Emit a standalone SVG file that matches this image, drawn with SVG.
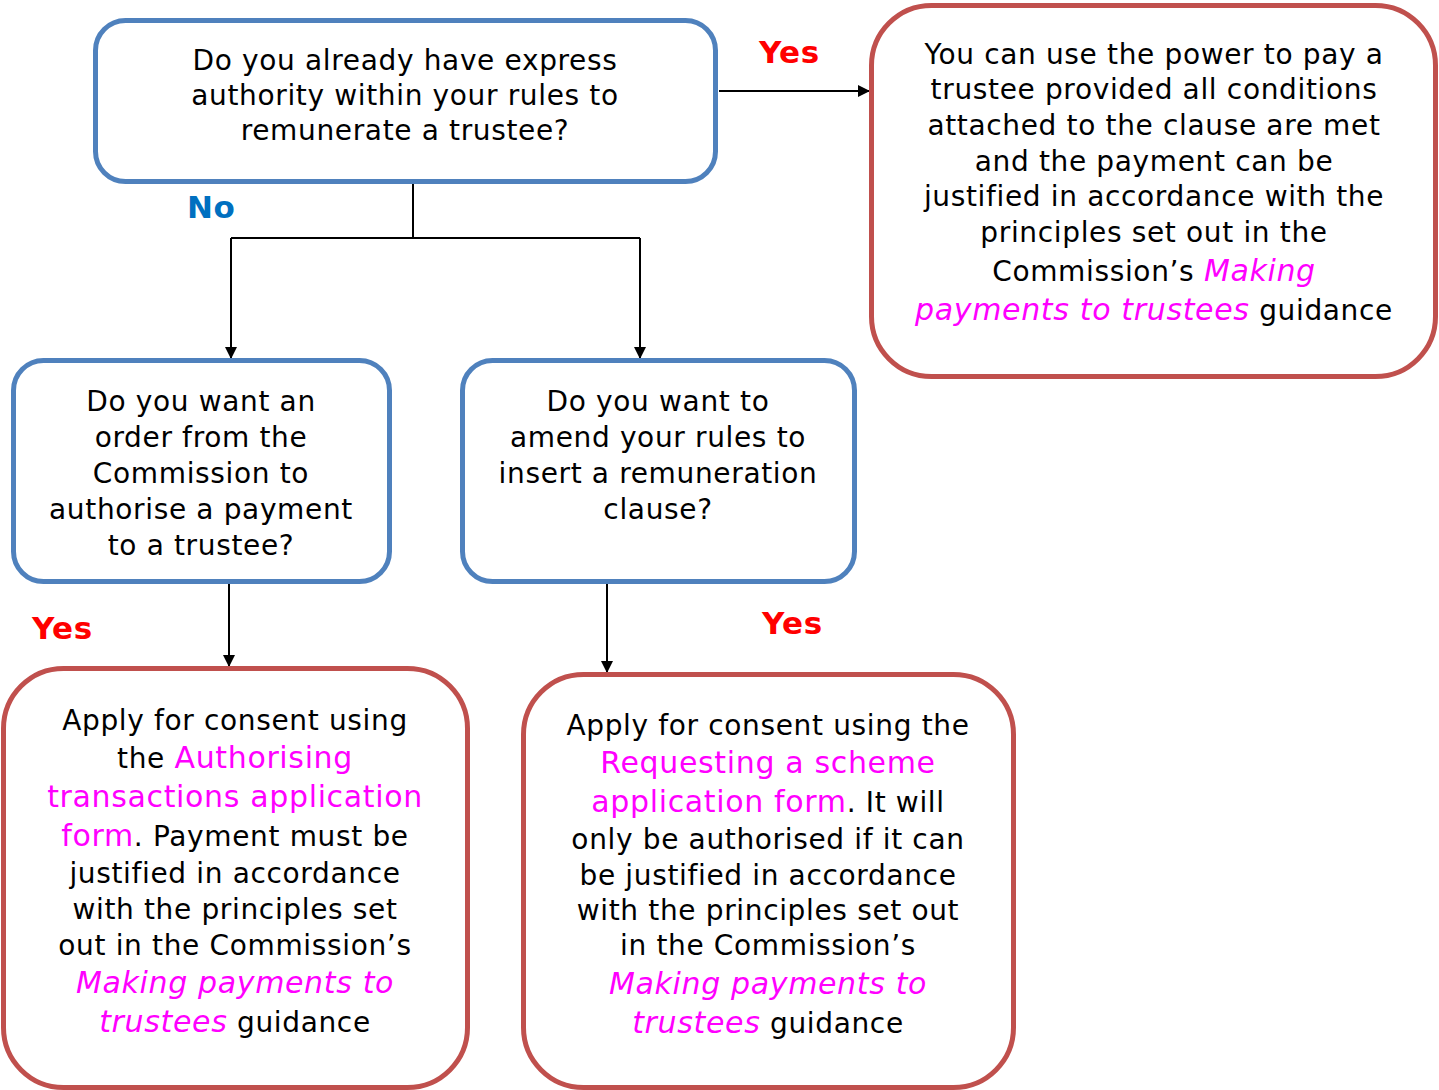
<svg xmlns="http://www.w3.org/2000/svg" width="1439" height="1090" viewBox="0 0 1439 1090">
<defs>
<marker id="arr" markerWidth="12" markerHeight="12" refX="12" refY="6" orient="auto" markerUnits="userSpaceOnUse">
<path d="M0,0 L12,6 L0,12 Z" fill="#000"/>
</marker>
<style>
.q{fill:#fff;stroke:#4f81bd;stroke-width:5}
.a{fill:#fff;stroke:#c0504d;stroke-width:5}
.t{font-family:"DejaVu Sans",Verdana,sans-serif;font-size:28px;letter-spacing:0.65px;fill:#000;text-anchor:middle}
.m{fill:#ff00ff;font-size:30px}
.i{font-style:italic}
.lbl{font-family:"DejaVu Sans",Verdana,sans-serif;font-size:31px;font-weight:bold;letter-spacing:0.5px}
.yes{fill:#ff0000}
.no{fill:#0070c0}
.c{fill:none;stroke:#000;stroke-width:2}
</style>
</defs>
<rect width="1439" height="1090" fill="#fff"/>
<g id="connectors">
<path class="c" d="M719,91 H870" marker-end="url(#arr)"/>
<path class="c" d="M413,184 V238"/>
<path class="c" d="M231,238 H640"/>
<path class="c" d="M231,238 V359" marker-end="url(#arr)"/>
<path class="c" d="M640,238 V359" marker-end="url(#arr)"/>
<path class="c" d="M229,582 V667" marker-end="url(#arr)"/>
<path class="c" d="M607,584 V673" marker-end="url(#arr)"/>
<text class="lbl yes" x="759" y="63">Yes</text>
<text class="lbl no" x="187" y="218">No</text>
<text class="lbl yes" x="32" y="639">Yes</text>
<text class="lbl yes" x="762" y="634">Yes</text>
</g>
<g id="q1">
<rect class="q" x="95.5" y="20.5" width="620" height="161" rx="30"/>
<text class="t" x="405" y="70">Do you already have express</text>
<text class="t" x="405" y="105">authority within your rules to</text>
<text class="t" x="405" y="140">remunerate a trustee?</text>
</g>
<g id="a1">
<rect class="a" x="871.5" y="5.5" width="564" height="371" rx="60"/>
<text class="t" x="1154" y="64">You can use the power to pay a</text>
<text class="t" x="1154" y="99">trustee provided all conditions</text>
<text class="t" x="1154" y="135">attached to the clause are met</text>
<text class="t" x="1154" y="171">and the payment can be</text>
<text class="t" x="1154" y="206">justified in accordance with the</text>
<text class="t" x="1154" y="242">principles set out in the</text>
<text class="t" x="1154" y="281">Commission’s <tspan class="m i">Making</tspan></text>
<text class="t" x="1154" y="320"><tspan class="m i">payments to trustees</tspan> guidance</text>
</g>
<g id="q2">
<rect class="q" x="13.5" y="360.5" width="376" height="221" rx="30"/>
<text class="t" x="201" y="411">Do you want an</text>
<text class="t" x="201" y="447">order from the</text>
<text class="t" x="201" y="483">Commission to</text>
<text class="t" x="201" y="519">authorise a payment</text>
<text class="t" x="201" y="555">to a trustee?</text>
</g>
<g id="q3">
<rect class="q" x="462.5" y="360.5" width="392" height="221" rx="30"/>
<text class="t" x="658" y="411">Do you want to</text>
<text class="t" x="658" y="447">amend your rules to</text>
<text class="t" x="658" y="483">insert a remuneration</text>
<text class="t" x="658" y="519">clause?</text>
</g>
<g id="a2">
<rect class="a" x="3.5" y="668.5" width="464" height="419" rx="60"/>
<text class="t" x="235" y="730">Apply for consent using</text>
<text class="t" x="235" y="768">the <tspan class="m">Authorising</tspan></text>
<text class="t" x="235" y="807"><tspan class="m">transactions application</tspan></text>
<text class="t" x="235" y="846"><tspan class="m">form</tspan>. Payment must be</text>
<text class="t" x="235" y="883">justified in accordance</text>
<text class="t" x="235" y="919">with the principles set</text>
<text class="t" x="235" y="955">out in the Commission’s</text>
<text class="t" x="235" y="993"><tspan class="m i">Making payments to</tspan></text>
<text class="t" x="235" y="1032"><tspan class="m i">trustees</tspan> guidance</text>
</g>
<g id="a3">
<rect class="a" x="523.5" y="674.5" width="490" height="413" rx="60"/>
<text class="t" x="768" y="735">Apply for consent using the</text>
<text class="t" x="768" y="773"><tspan class="m">Requesting a scheme</tspan></text>
<text class="t" x="768" y="812"><tspan class="m">application form</tspan>. It will</text>
<text class="t" x="768" y="849">only be authorised if it can</text>
<text class="t" x="768" y="885">be justified in accordance</text>
<text class="t" x="768" y="920">with the principles set out</text>
<text class="t" x="768" y="955">in the Commission’s</text>
<text class="t" x="768" y="994"><tspan class="m i">Making payments to</tspan></text>
<text class="t" x="768" y="1033"><tspan class="m i">trustees</tspan> guidance</text>
</g>
</svg>
